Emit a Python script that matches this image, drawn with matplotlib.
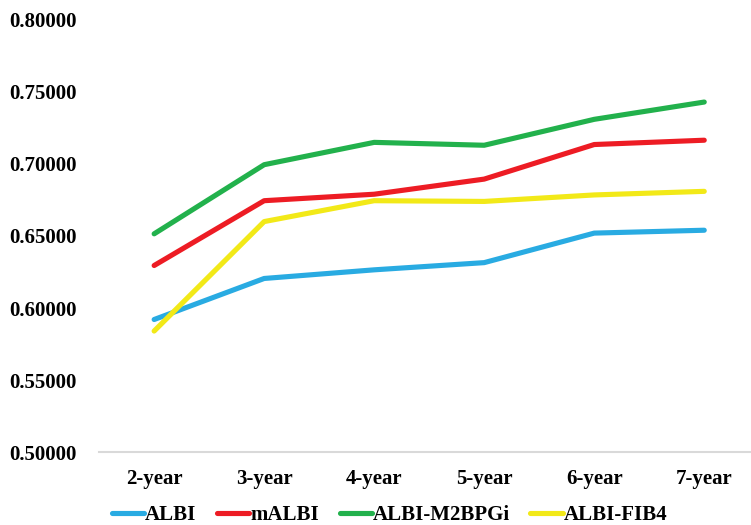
import matplotlib.pyplot as plt

years = ['2-year', '3-year', '4-year', '5-year', '6-year', '7-year']
albi = [0.5920, 0.6205, 0.6265, 0.6315, 0.6520, 0.6540]
malbi = [0.6295, 0.6745, 0.6790, 0.6895, 0.7135, 0.7165]
albi_m2bpgi = [0.6515, 0.6995, 0.7150, 0.7130, 0.7310, 0.7430]
albi_fib4 = [0.5840, 0.6600, 0.6745, 0.6740, 0.6785, 0.6810]

series = [
    ('ALBI', albi, '#29abe2'),
    ('mALBI', malbi, '#ed1c24'),
    ('ALBI-M2BPGi', albi_m2bpgi, '#22b14c'),
    ('ALBI-FIB4', albi_fib4, '#f2e918'),
]

plt.rcParams['font.family'] = ['Liberation Serif', 'DejaVu Serif']
plt.rcParams['font.weight'] = 'bold'
fs = 15

fig = plt.figure(figsize=(7.51, 5.25), dpi=100)
# plot area runs past the right edge, so the last half category is clipped
ax = fig.add_axes([0.132, 0.139, 0.879, 0.823])

x = list(range(len(years)))
for name, vals, col in series:
    ax.plot(x, vals, color=col, lw=3.7, solid_capstyle='round', label=name)

ax.set_ylim(0.5, 0.8)
ax.set_yticks([0.5, 0.55, 0.6, 0.65, 0.7, 0.75, 0.8])
ax.set_yticklabels(['%.5f' % v for v in ax.get_yticks()], fontsize=fs, fontweight='bold')
ax.set_xlim(-0.5, 5.5)
ax.set_xticks(x)
ax.set_xticklabels(years, fontsize=fs, fontweight='bold')

for s in ['top', 'right', 'left']:
    ax.spines[s].set_visible(False)
ax.spines['bottom'].set_color('#d9d9d9')
ax.spines['bottom'].set_linewidth(1.5)
ax.tick_params(length=0)
ax.tick_params(axis='x', pad=12)
ax.tick_params(axis='y', pad=16)

ax.legend(loc='center left', bbox_to_anchor=(0.149, 0.019), bbox_transform=fig.transFigure,
          ncol=4, frameon=False, prop={'size': fs, 'weight': 'bold'},
          handlelength=1.55, handletextpad=0.03, columnspacing=1.0, borderaxespad=0,
          borderpad=0)

fig.savefig('out.png', dpi=100)
